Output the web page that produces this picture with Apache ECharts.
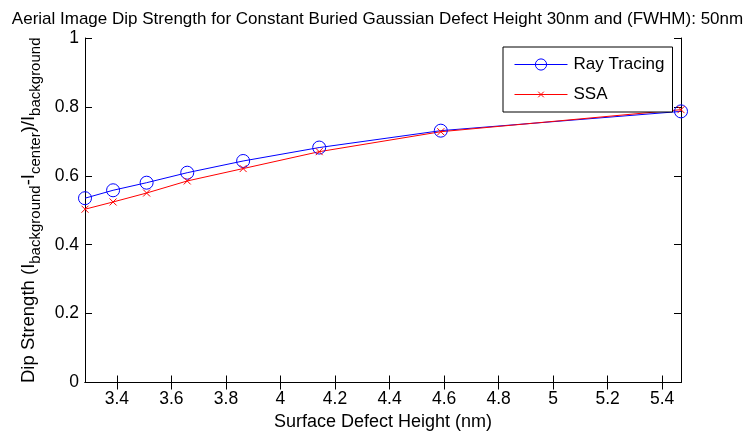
<!DOCTYPE html>
<html>
<head>
<meta charset="utf-8">
<script src="https://cdn.jsdelivr.net/npm/echarts@6/dist/echarts.min.js"></script>
<style>
html,body{margin:0;padding:0;background:#fff;}
#chart{width:755px;height:437px;}
</style>
</head>
<body>
<div id="chart"></div>
<script>
// Data
const xVals = [3.283, 3.386, 3.509, 3.658, 3.863, 4.142, 4.588, 5.469];
const rayTracing = [0.535, 0.558, 0.580, 0.609, 0.643, 0.682, 0.731, 0.787];
const ssa = [0.503, 0.524, 0.550, 0.585, 0.621, 0.670, 0.728, 0.792];
const xTicks = [3.4, 3.6, 3.8, 4.0, 4.2, 4.4, 4.6, 4.8, 5.0, 5.2, 5.4];
const seriesNames = ['Ray Tracing', 'SSA'];

const FONT = 'Liberation Sans, Arial, Helvetica, sans-serif';
const xMin = Math.min(...xVals);
const xMax = Math.max(...xVals);

const chart = echarts.init(document.getElementById('chart'), null, {renderer: 'canvas'});

const tickInside = {show: true, inside: true, length: 7, lineStyle: {color: '#000', width: 1}};
const axisLine = {show: true, lineStyle: {color: '#000', width: 1}};
// "x" marker drawn in the middle half of a padded box
const xMarker = 'path://M-5,-5M0,0L10,10M10,0L0,10M15,15';

chart.setOption({
  animation: false,
  backgroundColor: '#fff',
  textStyle: {fontFamily: FONT},
  title: {
    text: 'Aerial Image Dip Strength for Constant Buried Gaussian Defect Height 30nm and (FWHM): 50nm',
    left: 'center',
    top: 6,
    textStyle: {fontFamily: FONT, fontSize: 17, fontWeight: 'normal', color: '#000'}
  },
  grid: {left: 85, right: 74, top: 38, bottom: 54.5, show: false},
  legend: {
    data: seriesNames,
    orient: 'vertical',
    left: 503,
    top: 47,
    width: 170,
    padding: [9, 8, 9, 11],
    itemWidth: 53,
    itemHeight: 14,
    itemGap: 13,
    backgroundColor: '#fff',
    borderColor: '#000',
    borderWidth: 1,
    borderRadius: 0,
    lineStyle: {width: 1},
    itemStyle: {borderWidth: 1},
    textStyle: {fontFamily: FONT, fontSize: 17, color: '#000', padding: [0, 0, 0, 1]}
  },
  xAxis: [{
    type: 'value',
    min: xMin, max: xMax,
    name: 'Surface Defect Height (nm)',
    nameLocation: 'middle',
    nameGap: 31,
    nameTextStyle: {fontFamily: FONT, fontSize: 18, color: '#000'},
    axisLine: axisLine,
    axisTick: Object.assign({customValues: xTicks}, tickInside),
    axisLabel: {customValues: xTicks, fontFamily: FONT, fontSize: 17.5, color: '#000', margin: 8},
    splitLine: {show: false}
  }, {
    type: 'value',
    position: 'top',
    min: xMin, max: xMax,
    axisLine: axisLine,
    axisTick: Object.assign({customValues: xTicks}, tickInside),
    axisLabel: {show: false},
    splitLine: {show: false}
  }],
  yAxis: [{
    type: 'value',
    min: 0, max: 1, interval: 0.2,
    name: '{n|Dip Strength (I}{s|background}{n|-I}{s|center}{n|)/I}{s|background}',
    nameLocation: 'middle',
    nameRotate: 90,
    nameGap: 42,
    nameTextStyle: {
      fontFamily: FONT, color: '#000',
      rich: {
        n: {fontFamily: FONT, fontSize: 18.5, lineHeight: 19, verticalAlign: 'top', color: '#000'},
        s: {fontFamily: FONT, fontSize: 15, lineHeight: 15, padding: [14, 0, 0, 0], color: '#000'}
      }
    },
    axisLine: axisLine,
    axisTick: tickInside,
    axisLabel: {fontFamily: FONT, fontSize: 17.5, color: '#000', margin: 6},
    splitLine: {show: false}
  }, {
    type: 'value',
    position: 'right',
    min: 0, max: 1, interval: 0.2,
    axisLine: axisLine,
    axisTick: tickInside,
    axisLabel: {show: false},
    splitLine: {show: false}
  }],
  series: [{
    name: seriesNames[0],
    type: 'line',
    xAxisIndex: 0, yAxisIndex: 0,
    data: xVals.map((x, i) => [x, rayTracing[i]]),
    color: '#0000ff',
    lineStyle: {color: '#0000ff', width: 1},
    symbol: 'circle',
    symbolSize: 13,
    itemStyle: {color: 'none', borderColor: '#0000ff', borderWidth: 1},
    emphasis: {disabled: true}
  }, {
    name: seriesNames[1],
    type: 'line',
    xAxisIndex: 0, yAxisIndex: 0,
    data: xVals.map((x, i) => [x, ssa[i]]),
    color: '#ff0000',
    lineStyle: {color: '#ff0000', width: 1},
    symbol: xMarker,
    symbolSize: 14,
    itemStyle: {color: 'none', borderColor: '#ff0000', borderWidth: 1},
    emphasis: {disabled: true}
  }]
});
</script>
</body>
</html>
